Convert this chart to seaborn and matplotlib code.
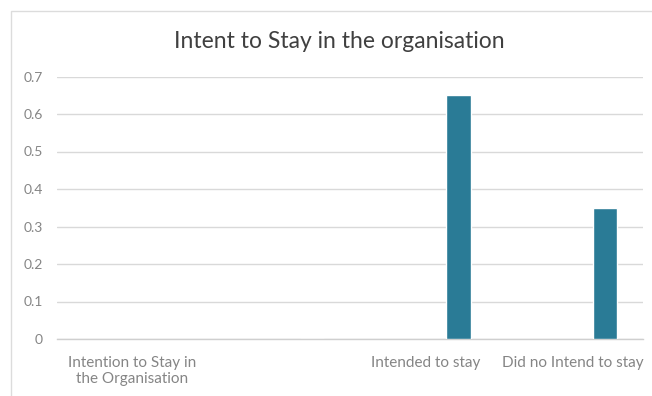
import matplotlib
matplotlib.use("Agg")
import matplotlib.pyplot as plt
import seaborn as sns
import pandas as pd
from matplotlib.patches import Rectangle

# ---- data ----
categories = ["Intention to Stay in\nthe Organisation", "Intended to stay", "Did no Intend to stay"]
values = [0.0, 0.65, 0.35]
yticks = [0, 0.1, 0.2, 0.3, 0.4, 0.5, 0.6, 0.7]
ytick_labels = ["0", "0.1", "0.2", "0.3", "0.4", "0.5", "0.6", "0.7"]
title = "Intent to Stay in the organisation"

df = pd.DataFrame({"category": categories, "value": values})

sns.set_theme(style="white")
plt.rcParams["font.family"] = ["Lato", "DejaVu Sans"]

W, H = 652, 396
L, R, T, B = 57, 643, 76.5, 339
fig = plt.figure(figsize=(W / 100, H / 100), dpi=100)
ax = fig.add_axes([L / W, 1 - B / H, (R - L) / W, (B - T) / H])

sns.barplot(data=df, x="category", y="value", order=categories,
            color="#2a7b96", width=0.17, ax=ax, saturation=1, zorder=3)

# x scale: ~146.5 px per category, category index 1 at px 458.5
ppu = 146.5
x0_px = 458.5 - ppu
ax.set_xlim((L - x0_px) / ppu, (R - x0_px) / ppu)
label_px = [132, 426, 573]
ax.set_xticks([(p - x0_px) / ppu for p in label_px])
ax.set_xticklabels(categories, fontsize=11, color="#858585", linespacing=1.2)

ax.set_ylim(0, 0.7)
ax.set_yticks(yticks)
ax.set_yticklabels(ytick_labels, fontsize=10, color="#858585")
ax.tick_params(axis="both", length=0)
ax.tick_params(axis="x", pad=12)
ax.tick_params(axis="y", pad=10)

ax.yaxis.grid(True, color="#d9d9d9", linewidth=1, zorder=0)
ax.xaxis.grid(False)
for s in ["top", "right", "left"]:
    ax.spines[s].set_visible(False)
ax.spines["bottom"].set_color("#cfcfcf")
ax.spines["bottom"].set_linewidth(1)
ax.set_xlabel("")
ax.set_ylabel("")

fig.text(339.5 / W, 1 - 48 / H, title, ha="center", va="baseline",
         fontsize=16.5, color="#404040")

# chart border
fig.patches.append(Rectangle((10.5 / W, -0.05), 1.2, 1 - 10.5 / H + 0.05,
                             transform=fig.transFigure, fill=False,
                             edgecolor="#dcdcdc", linewidth=1))

fig.savefig("out.png", dpi=100)
